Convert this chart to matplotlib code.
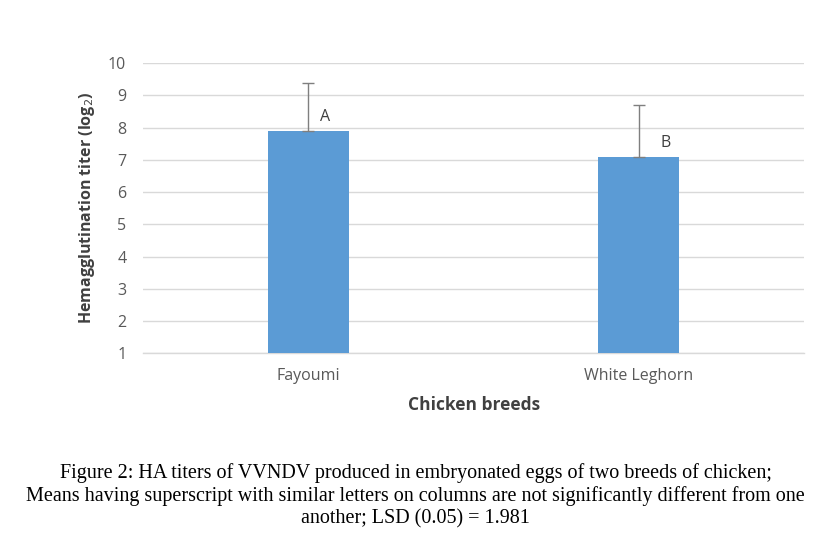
import matplotlib
matplotlib.use("Agg")
import matplotlib.pyplot as plt
import numpy as np

breeds = ["Fayoumi", "White Leghorn"]
titers = [7.9, 7.1]
upper_err = [1.5, 1.6]
letters = ["A", "B"]

caption = ("Figure 2: HA titers of VVNDV produced in embryonated eggs of two breeds of chicken;\n"
           "Means having superscript with similar letters on columns are not significantly different from one\n"
           "another; LSD (0.05) = 1.981")

base = 1
fig = plt.figure(figsize=(8.36, 5.45), dpi=100)
ax = fig.add_axes([0.171, 0.352, 0.791, 0.532])

x = np.arange(len(breeds))
heights = [t - base for t in titers]
ax.bar(x, heights, width=0.245, bottom=base, color="#5B9BD5", zorder=3,
       yerr=[np.zeros(len(x)), upper_err], error_kw=dict(ecolor="#7f7f7f", elinewidth=1,
                                                           capsize=4, capthick=1, zorder=4))

# letters sit a bit right of the error bar
letter_dx = [0.05, 0.08]
for xi, t, lab, dx in zip(x, titers, letters, letter_dx):
    ax.text(xi + dx, t + 0.42, lab, ha="center", va="center", fontsize=11.5,
            color="#404040", family="Open Sans")

ax.set_xlim(-0.5, 1.5)
ax.set_ylim(1, 10)
ax.set_yticks(range(1, 11))
ax.set_xticks(x)
ax.set_xticklabels(breeds)
ax.grid(axis="y", color="#d9d9d9", linewidth=1, zorder=0)
ax.axhline(1, color="#d9d9d9", linewidth=1, zorder=2, clip_on=False)
for s in ax.spines.values():
    s.set_visible(False)
ax.tick_params(axis="y", length=0, labelsize=11.5, labelcolor="#595959", pad=12)
ax.tick_params(axis="x", length=0, labelsize=11.5, labelcolor="#595959", pad=11)
for lab in ax.get_xticklabels() + ax.get_yticklabels():
    lab.set_family("Open Sans")

ax.set_ylabel("Hemagglutination titer (log$_2$)", fontsize=11.5, fontweight="bold",
              color="#404040", family="Open Sans", labelpad=8)
ax.set_xlabel("Chicken breeds", fontsize=12.5, fontweight="bold", color="#404040",
              family="Open Sans", labelpad=8)

fig.text(0.497, 0.090, caption, ha="center", va="center", fontsize=14.5,
         family="Liberation Serif", linespacing=1.2, color="black")

fig.savefig("out.png", dpi=100)
